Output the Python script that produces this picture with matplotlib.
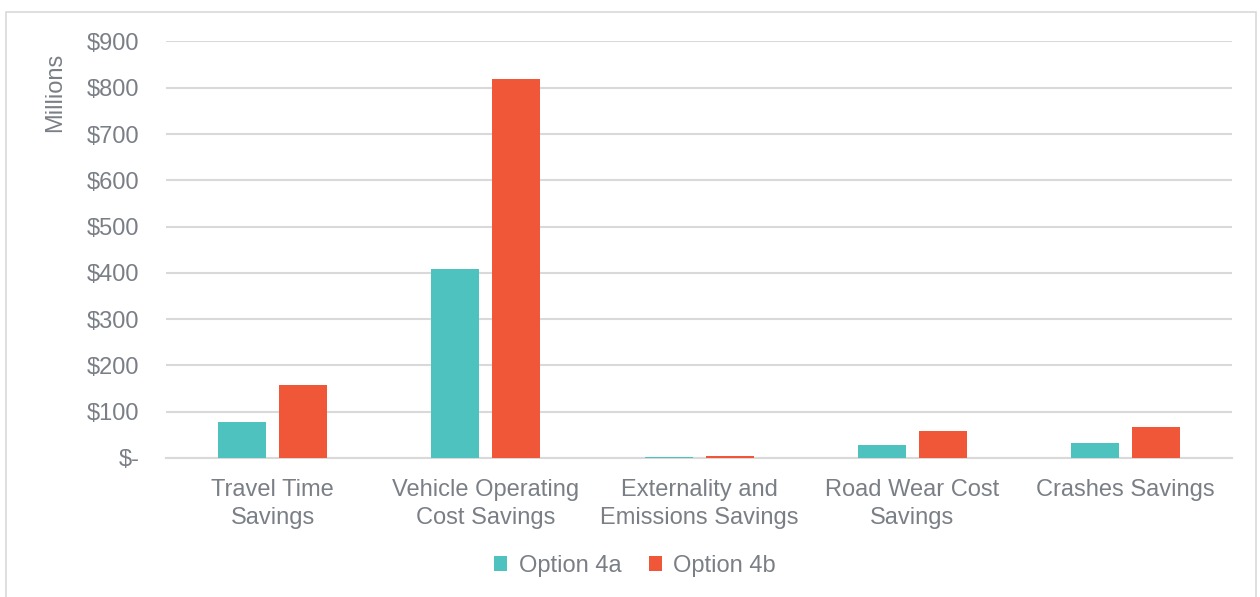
import matplotlib
matplotlib.use("Agg")
import matplotlib.pyplot as plt
import numpy as np
from matplotlib.patches import Rectangle

categories = ["Travel Time\nSavings", "Vehicle Operating\nCost Savings",
              "Externality and\nEmissions Savings", "Road Wear Cost\nSavings",
              "Crashes Savings"]
option_4a = [78, 408, 1.5, 28, 32]
option_4b = [158, 819, 5, 58, 67]
series_names = ["Option 4a", "Option 4b"]
yticks = [0, 100, 200, 300, 400, 500, 600, 700, 800, 900]
ytick_labels = ["$-", "$100", "$200", "$300", "$400", "$500", "$600", "$700", "$800", "$900"]

colors = ["#4EC2BF", "#F05638"]
text_color = "#7A7F86"
grid_color = "#D9D9D9"
fs = 17

plt.rcParams['font.family'] = ['Liberation Sans', 'DejaVu Sans']

fig = plt.figure(figsize=(12.6, 5.97), dpi=100)
ax = fig.add_axes([0.1317, 0.233, 0.8463, 0.6975])

x = np.arange(len(categories))
w = 0.225
off = 0.143
ax.bar(x - off, option_4a, w, color=colors[0], label=series_names[0], zorder=3)
ax.bar(x + off, option_4b, w, color=colors[1], label=series_names[1], zorder=3)

ax.set_xlim(-0.5, len(categories) - 0.5)
ax.set_ylim(0, 900)
ax.set_yticks(yticks)
ax.set_yticklabels(ytick_labels)
ax.set_xticks(x)
ax.set_xticklabels(categories, linespacing=1.38)
ax.yaxis.grid(True, color=grid_color, linewidth=1.5, zorder=0)
ax.set_axisbelow(True)
for s in ["top", "right", "left"]:
    ax.spines[s].set_visible(False)
ax.spines["bottom"].set_color(grid_color)
ax.spines["bottom"].set_linewidth(1.5)
ax.tick_params(axis="both", length=0, colors=text_color, labelsize=fs)
ax.tick_params(axis="y", pad=19)
ax.tick_params(axis="x", pad=15)

fig.text(55 / 1260, 1 - 92 / 597, "Millions", rotation=90, ha="center", va="center",
         color=text_color, fontsize=fs)

leg = fig.legend(loc="center", bbox_to_anchor=(0.504, 0.052), ncol=2, frameon=False,
                 fontsize=fs, handlelength=0.55, handleheight=0.55, columnspacing=1.15,
                 handletextpad=0.5)
for t in leg.get_texts():
    t.set_color(text_color)

fig.patches.append(Rectangle((0.005, -0.01), 0.992, 0.99, transform=fig.transFigure,
                             fill=False, edgecolor="#D9D9D9", linewidth=1.2))

fig.savefig("out.png", dpi=100)
